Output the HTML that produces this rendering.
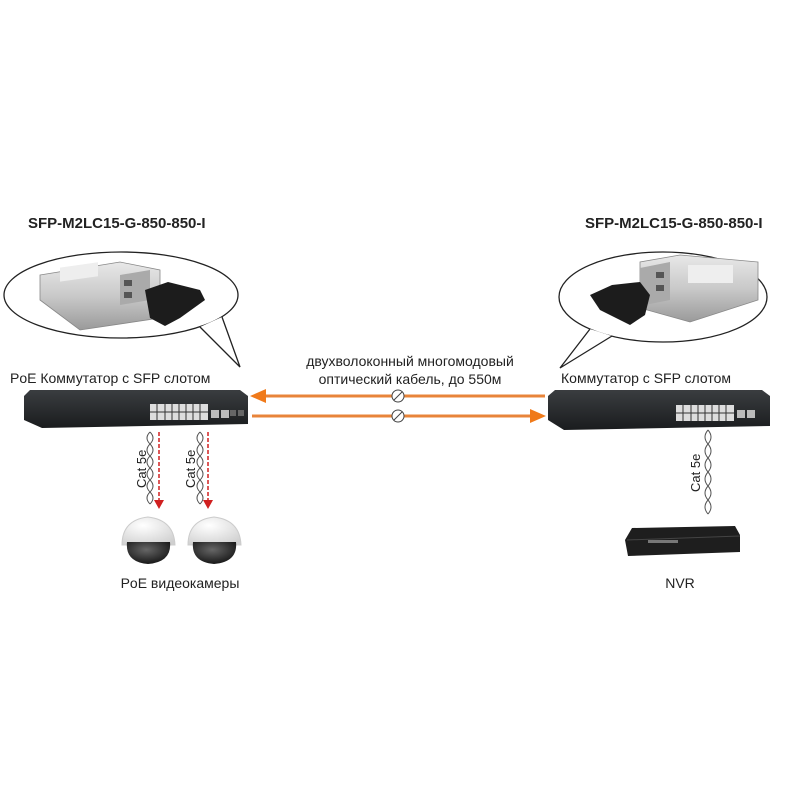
<!DOCTYPE html>
<html><head><meta charset="utf-8"><style>
html,body{margin:0;padding:0;background:#fff}
svg{display:block}
text{font-family:"Liberation Sans","Noto Sans CJK SC",sans-serif;fill:#222}
</style></head><body>
<svg width="800" height="800" viewBox="0 0 800 800" xmlns="http://www.w3.org/2000/svg">
<defs>
<linearGradient id="sil" x1="0" y1="0" x2="0" y2="1"><stop offset="0" stop-color="#e8e8e8"/><stop offset="0.5" stop-color="#c9c9c9"/><stop offset="1" stop-color="#9a9a9a"/></linearGradient>
<linearGradient id="sw" x1="0" y1="0" x2="0" y2="1"><stop offset="0" stop-color="#3a3d40"/><stop offset="1" stop-color="#1a1c1e"/></linearGradient>
<radialGradient id="dome" cx="0.4" cy="0.3" r="0.8"><stop offset="0" stop-color="#fff"/><stop offset="1" stop-color="#cfcfcf"/></radialGradient>
<radialGradient id="lens" cx="0.45" cy="0.35" r="0.7"><stop offset="0" stop-color="#666"/><stop offset="1" stop-color="#111"/></radialGradient>
</defs>

<!-- titles -->
<text x="28" y="228" font-size="15" font-weight="bold">SFP-M2LC15-G-850-850-I</text>
<text x="585" y="228" font-size="15" font-weight="bold">SFP-M2LC15-G-850-850-I</text>

<!-- left bubble -->
<ellipse cx="121" cy="295" rx="117" ry="43" fill="#fff" stroke="#222" stroke-width="1.3"/>
<polygon points="200,327 240,367 222,317" fill="#fff" stroke="none"/>
<polyline points="200,327 240,367 222,317" fill="none" stroke="#222" stroke-width="1.3"/>
<!-- right bubble -->
<ellipse cx="663" cy="297" rx="104" ry="45" fill="#fff" stroke="#222" stroke-width="1.3"/>
<polygon points="590,329 560,368 612,336" fill="#fff" stroke="none"/>
<polyline points="590,329 560,368 612,336" fill="none" stroke="#222" stroke-width="1.3"/>

<!-- left SFP -->
<g>
<polygon points="40,275 120,262 160,270 160,318 80,330 40,300" fill="url(#sil)" stroke="#888" stroke-width="0.8"/>
<rect x="60" y="276" width="38" height="14" fill="#eee" transform="skewY(-8)" />
<polygon points="120,275 150,270 150,300 120,305" fill="#aaa"/>
<rect x="124" y="280" width="8" height="6" fill="#555"/>
<rect x="124" y="292" width="8" height="6" fill="#555"/>
<polygon points="145,290 168,282 200,290 205,300 180,318 165,326 150,318" fill="#1c1c1c"/>
</g>
<!-- right SFP -->
<g>
<polygon points="758,262 680,255 640,262 640,308 690,322 758,300" fill="url(#sil)" stroke="#888" stroke-width="0.8"/>
<rect x="688" y="265" width="45" height="18" fill="#eee"/>
<polygon points="640,268 670,262 670,300 640,306" fill="#aaa"/>
<rect x="656" y="272" width="8" height="6" fill="#555"/>
<rect x="656" y="285" width="8" height="6" fill="#555"/>
<polygon points="590,295 612,285 640,282 650,295 645,315 630,325 600,310" fill="#1c1c1c"/>
</g>

<!-- labels -->
<text x="10" y="383" font-size="14">PoE Коммутатор с SFP слотом</text>
<text x="561" y="383" font-size="14">Коммутатор с SFP слотом</text>
<text x="410" y="366" font-size="14" text-anchor="middle">двухволоконный многомодовый</text>
<text x="410" y="384" font-size="14" text-anchor="middle">оптический кабель, до 550м</text>

<!-- left switch -->
<polygon points="30,390 240,390 248,396 248,424 42,428 24,420 24,396" fill="url(#sw)"/>
<rect x="150" y="404" width="58" height="16" fill="#ddd"/>
<g stroke="#333" stroke-width="1"><line x1="150" y1="412" x2="208" y2="412"/><line x1="157" y1="404" x2="157" y2="420"/><line x1="165" y1="404" x2="165" y2="420"/><line x1="172" y1="404" x2="172" y2="420"/><line x1="179" y1="404" x2="179" y2="420"/><line x1="186" y1="404" x2="186" y2="420"/><line x1="193" y1="404" x2="193" y2="420"/><line x1="200" y1="404" x2="200" y2="420"/></g>
<rect x="211" y="410" width="8" height="8" fill="#bbb"/><rect x="221" y="410" width="8" height="8" fill="#bbb"/>
<rect x="230" y="410" width="6" height="6" fill="#666"/><rect x="238" y="410" width="6" height="6" fill="#666"/>

<!-- right switch -->
<polygon points="555,390 762,390 770,396 770,426 564,430 548,420 548,396" fill="url(#sw)"/>
<rect x="676" y="405" width="58" height="16" fill="#ddd"/>
<g stroke="#333" stroke-width="1"><line x1="676" y1="413" x2="734" y2="413"/><line x1="683" y1="405" x2="683" y2="421"/><line x1="691" y1="405" x2="691" y2="421"/><line x1="698" y1="405" x2="698" y2="421"/><line x1="705" y1="405" x2="705" y2="421"/><line x1="712" y1="405" x2="712" y2="421"/><line x1="719" y1="405" x2="719" y2="421"/><line x1="726" y1="405" x2="726" y2="421"/></g>
<rect x="737" y="410" width="8" height="8" fill="#bbb"/><rect x="747" y="410" width="8" height="8" fill="#bbb"/>

<!-- orange fiber lines -->
<line x1="262" y1="396" x2="545" y2="396" stroke="#e8843a" stroke-width="3"/>
<polygon points="250,396 266,389 266,403" fill="#f07a1a"/>
<line x1="252" y1="416" x2="533" y2="416" stroke="#e8843a" stroke-width="3"/>
<polygon points="546,416 530,409 530,423" fill="#f07a1a"/>
<g fill="#fff" stroke="#444" stroke-width="1">
<circle cx="398" cy="396" r="6"/><circle cx="398" cy="416" r="6"/></g>
<g stroke="#444" stroke-width="1"><line x1="394" y1="400" x2="402" y2="392"/><line x1="394" y1="420" x2="402" y2="412"/></g>

<!-- twisted cables -->
<g fill="none" stroke="#555" stroke-width="1">
<path d="M150,432 Q156,438 150,444 Q144,450 150,456 Q156,462 150,468 Q144,474 150,480 Q156,486 150,492 Q144,498 150,504"/>
<path d="M150,432 Q144,438 150,444 Q156,450 150,456 Q144,462 150,468 Q156,474 150,480 Q144,486 150,492 Q156,498 150,504"/>
<path d="M200,432 Q206,438 200,444 Q194,450 200,456 Q206,462 200,468 Q194,474 200,480 Q206,486 200,492 Q194,498 200,504"/>
<path d="M200,432 Q194,438 200,444 Q206,450 200,456 Q194,462 200,468 Q206,474 200,480 Q194,486 200,492 Q206,498 200,504"/>
<path d="M708,430 Q714,437 708,444 Q702,451 708,458 Q714,465 708,472 Q702,479 708,486 Q714,493 708,500 Q702,507 708,514"/>
<path d="M708,430 Q702,437 708,444 Q714,451 708,458 Q702,465 708,472 Q714,479 708,486 Q702,493 708,500 Q714,507 708,514"/>
</g>
<g stroke="#d02020" stroke-width="1.5" stroke-dasharray="4,2">
<line x1="159" y1="432" x2="159" y2="500"/><line x1="208" y1="432" x2="208" y2="500"/></g>
<polygon points="154,500 164,500 159,509" fill="#d02020"/>
<polygon points="203,500 213,500 208,509" fill="#d02020"/>
<text transform="translate(146,488) rotate(-90)" font-size="13">Cat 5e</text>
<text transform="translate(195,488) rotate(-90)" font-size="13">Cat 5e</text>
<text transform="translate(700,492) rotate(-90)" font-size="13">Cat 5e</text>

<!-- cameras -->
<g>
<path d="M122,545 Q122,520 148,517 Q174,520 175,545 Z" fill="url(#dome)" stroke="#ccc"/>
<path d="M127,542 L170,542 Q172,562 148,564 Q125,562 127,542 Z" fill="url(#lens)"/>
<path d="M188,545 Q188,520 214,517 Q240,520 241,545 Z" fill="url(#dome)" stroke="#ccc"/>
<path d="M193,542 L236,542 Q238,562 214,564 Q191,562 193,542 Z" fill="url(#lens)"/>
</g>
<text x="180" y="588" font-size="14" text-anchor="middle">PoE видеокамеры</text>

<!-- NVR -->
<polygon points="632,528 735,526 740,535 740,552 628,556 625,540" fill="#1e1e1e"/>
<line x1="627" y1="540" x2="740" y2="536" stroke="#444"/>
<rect x="648" y="540" width="30" height="3" fill="#777"/>
<text x="680" y="588" font-size="14" text-anchor="middle">NVR</text>
</svg>
</body></html>
